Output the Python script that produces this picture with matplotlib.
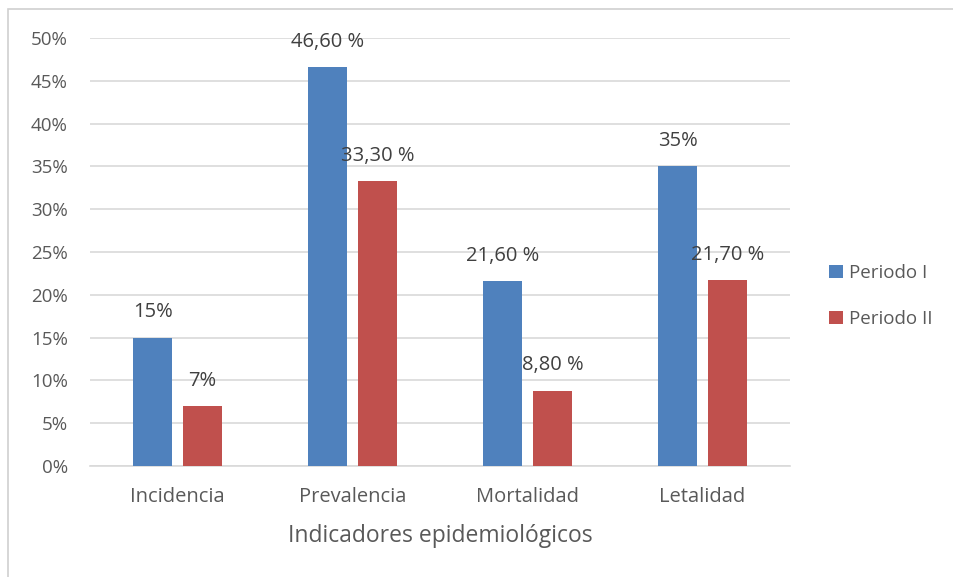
import matplotlib
matplotlib.use("Agg")
import matplotlib.pyplot as plt
import numpy as np
from matplotlib.patches import Rectangle

categories = ["Incidencia", "Prevalencia", "Mortalidad", "Letalidad"]
periodo1 = [15.0, 46.6, 21.6, 35.0]
periodo2 = [7.0, 33.3, 8.8, 21.7]
labels1 = ["15%", "46,60 %", "21,60 %", "35%"]
labels2 = ["7%", "33,30 %", "8,80 %", "21,70 %"]
series_names = ["Periodo I", "Periodo II"]
yticks = [0, 5, 10, 15, 20, 25, 30, 35, 40, 45, 50]
ytick_labels = [f"{v}%" for v in yticks]
x_title = "Indicadores epidemiológicos"

plt.rcParams['font.family'] = ['Open Sans', 'DejaVu Sans']
text_color = "#595959"
blue = "#4F81BD"
red = "#C0504D"

fig = plt.figure(figsize=(9.54, 5.77), dpi=100)
# outer chart border
fig.patches.append(Rectangle((8.5/954, -0.01), 1.0, 1 - 8.5/577 + 0.01, transform=fig.transFigure,
                             fill=False, edgecolor="#d0d0d0", linewidth=1.2))

ax = fig.add_axes([90/954, 1 - 466/577, 700/954, (466 - 38)/577])
x = np.arange(len(categories))
w = 0.225
off = 0.142
b1 = ax.bar(x - off, periodo1, w, color=blue, label=series_names[0], zorder=3)
b2 = ax.bar(x + off, periodo2, w, color=red, label=series_names[1], zorder=3)

for bars, labs in ((b1, labels1), (b2, labels2)):
    for r, lab in zip(bars, labs):
        ax.annotate(lab, (r.get_x() + r.get_width() / 2, r.get_height()),
                    xytext=(0, 11), textcoords="offset points",
                    ha="center", va="bottom", fontsize=14.5, color="#404040")

ax.set_xlim(-0.5, len(categories) - 0.5)
ax.set_ylim(0, 50)
ax.set_yticks(yticks)
ax.set_yticklabels(ytick_labels)
ax.set_xticks(x)
ax.set_xticklabels(categories)
ax.yaxis.grid(True, color="#d9d9d9", linewidth=1.2, zorder=0)
ax.set_axisbelow(True)
for s in ["top", "right", "left"]:
    ax.spines[s].set_visible(False)
ax.spines["bottom"].set_color("#d9d9d9")
ax.spines["bottom"].set_linewidth(1.2)
ax.tick_params(axis="y", length=0, pad=16, labelsize=13.5, labelcolor=text_color)
ax.tick_params(axis="x", length=0, pad=15, labelsize=14.5, labelcolor=text_color)
ax.set_xlabel(x_title, fontsize=16.5, color=text_color, labelpad=12)

leg = fig.legend(handles=[b1, b2], labels=series_names, loc="center left",
                 bbox_to_anchor=(812/954, 1 - 296/577), frameon=False,
                 fontsize=13.5, handlelength=0.75, handleheight=0.75,
                 handletextpad=0.3, labelspacing=1.5)
for t in leg.get_texts():
    t.set_color(text_color)

fig.savefig("out.png", dpi=100)
